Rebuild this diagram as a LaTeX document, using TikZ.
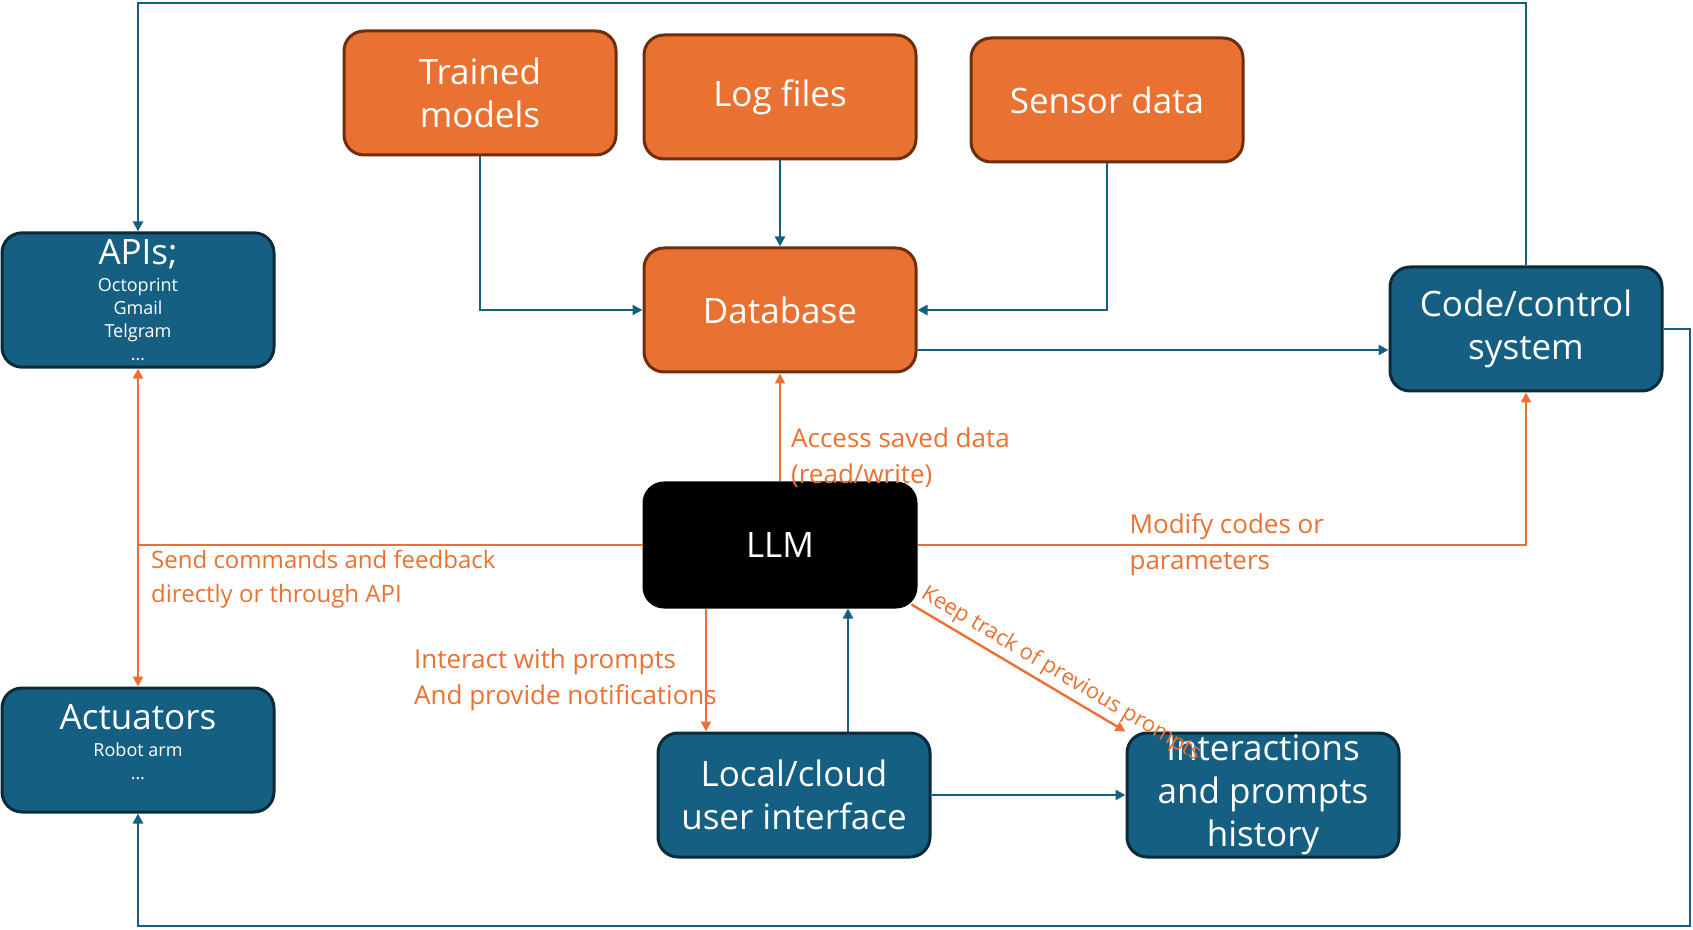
\documentclass[tikz,border=0pt]{standalone}
\usepackage{fontspec}
\setmainfont{Open Sans}
\usetikzlibrary{arrows.meta}

\definecolor{boxblue}{HTML}{156082}
\definecolor{boxblueline}{HTML}{0B2A3A}
\definecolor{boxorange}{HTML}{E97132}
\definecolor{boxorangeline}{HTML}{6E2E0C}

\newcommand{\bigtext}{\fontsize{17.5}{21.6}\selectfont}
\newcommand{\smalltext}{\fontsize{9}{11.4}\selectfont}

\begin{document}
\begin{tikzpicture}[x=0.5pt,y=-0.5pt,>={Triangle[length=5pt,width=5pt]},
    base node/.style={rectangle,rounded corners=10pt,draw,line width=1.5pt,minimum width=136pt,minimum height=62pt,align=center,text=white,font=\bigtext},
    blue node/.style={base node,fill=boxblue,draw=boxblueline},
    orange node/.style={base node,fill=boxorange,draw=boxorangeline},
    llm node/.style={base node,fill=black,draw=black},
    list node/.style={blue node,font=\smalltext},
    blue line/.style={->,draw=boxblue,line width=1.2pt},
    orange line/.style={->,draw=boxorange,line width=1.2pt},
    note/.style={text=boxorange,align=left,font=\fontsize{13}{18}\selectfont,inner sep=2pt}]

\useasboundingbox (0,0) rectangle (1693,930);

% data sources
\node[orange node] (trained)  at (480,93)  {Trained\\models};
\node[orange node] (logs)     at (780,97)  {Log files};
\node[orange node] (sensor)   at (1107,100) {Sensor data};
\node[orange node] (database) at (780,310) {Database};

% outside world
\node[list node] (apis) at (138,300) {{\bigtext APIs;}\\[2.2pt]Octoprint\\Gmail\\Telgram\\…};
\node[list node] (actuators) at (138,750) {{\bigtext Actuators}\\[2.2pt]Robot arm\\…\\[-3pt]\mbox{}};
\node[blue node] (code) at (1526,329) {Code/control\\system};

% core
\node[llm node] (llm) at (780,545) {LLM};
\node[blue node] (ui) at (794,795) {Local/cloud\\user interface};
\node[blue node,inner ysep=0pt] (history) at (1263,795) {Interactions\\and prompts\\history};

\coordinate (top) at (0,3);
\coordinate (corner) at (1690,926);

\draw[blue line] (trained.south) |- (database.west);
\draw[blue line] (logs) -- (database);
\draw[blue line] (sensor.south) |- (database.east);
\draw[blue line] ([yshift=-20pt]database.east) -- ([yshift=-20pt]database.east -| code.west);
\draw[blue line] (code.north) -- (code.north |- top) -| (apis.north);
\draw[blue line] (code.east) -| (corner) -| (actuators.south);

\draw[orange line] (llm.north) -- node[note,pos=0.22,anchor=west,xshift=3pt] {Access saved data\\(read/write)} (database.south);
\draw[orange line] (llm.west) -| node[note,pos=0.5,anchor=north west,xshift=4pt,font=\fontsize{12}{17}\selectfont] {Send commands and feedback\\directly or through API} (apis.south);
\draw[orange line] (llm.west) -| (actuators.north);
\draw[orange line] (llm.east) -| node[note,pos=0.17,anchor=west] {Modify codes or\\parameters} (code.south);
\draw[orange line] ([xshift=-37pt]llm.south) -- node[note,pos=0.58,anchor=east,xshift=8pt] {Interact with prompts\\And provide notifications} ([xshift=-37pt]llm.south |- ui.north);
\draw[blue line] ([xshift=27pt]ui.north) -- ([xshift=27pt]ui.north |- llm.south);
\draw[orange line] ([shift={(-3pt,2pt)}]llm.south east) -- node[note,sloped,above,pos=0.66,font=\fontsize{11}{13}\selectfont] {Keep track of previous prompts} (history.north west);
\draw[blue line] (ui) -- (history);
\end{tikzpicture}
\end{document}
